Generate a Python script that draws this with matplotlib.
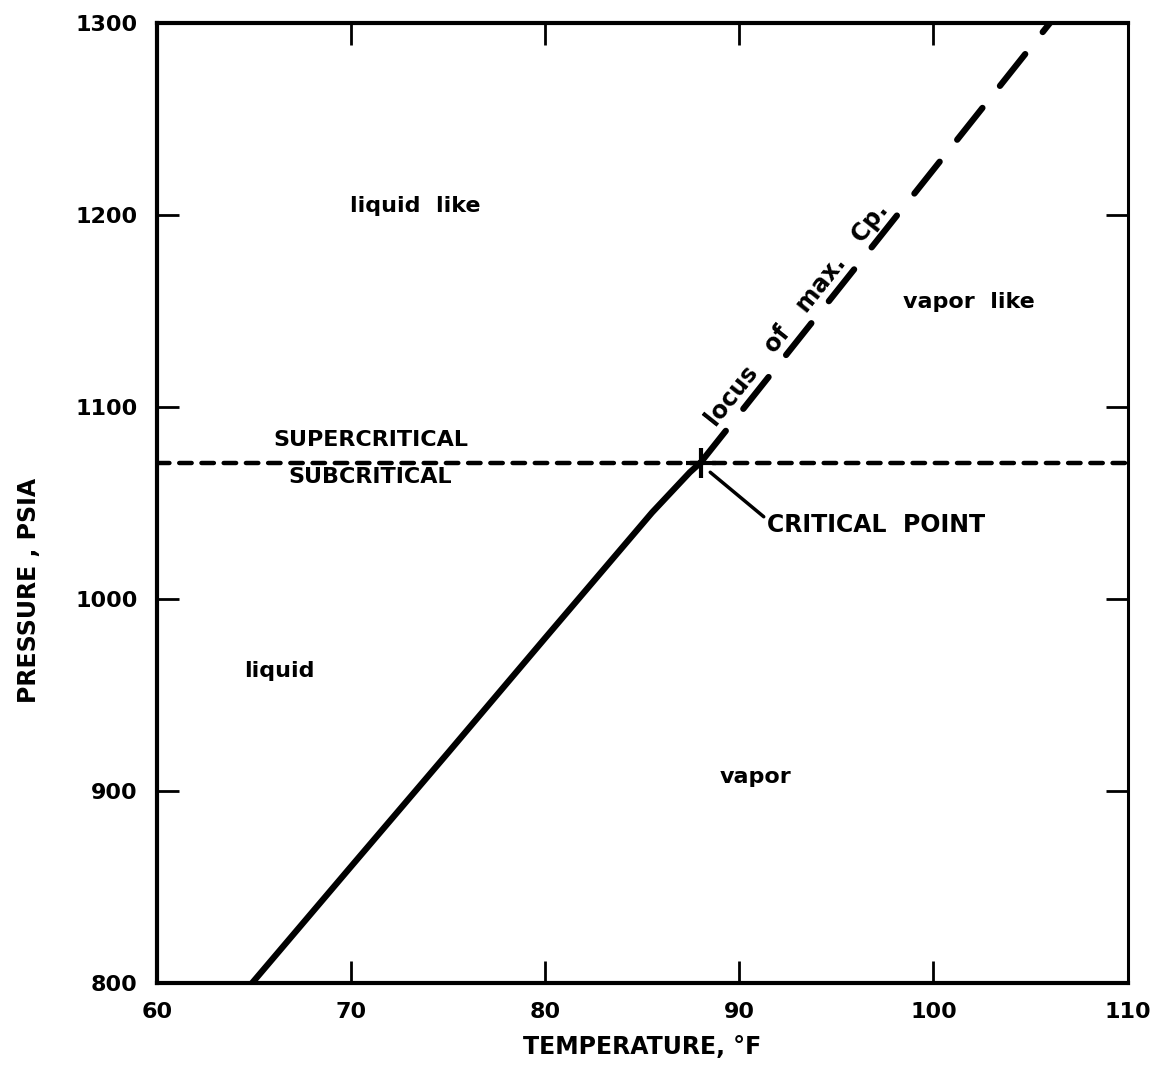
import numpy as np
import matplotlib.pyplot as plt

#--------------------------------
# Data
#--------------------------------
sat_T = [64.9, 70.0, 75.0, 80.0, 85.5, 87.45, 88.0]      # vapor pressure curve, F
sat_P = [800, 860.7, 920, 979.7, 1045, 1066, 1071]       # psia

locus_T = [88.0, 106.0]      # locus of max. Cp
locus_P = [1071, 1300]

crit_T = 88.0
crit_P = 1071

x_ticks = [60, 70, 80, 90, 100, 110]
y_ticks = [800, 900, 1000, 1100, 1200, 1300]

#--------------------------------
# Configurations of the graph
#--------------------------------
plt.rcParams['font.family'] = 'DejaVu Sans'
plt.rcParams['font.weight'] = 'bold'

fig = plt.figure(figsize=(11.52, 10.84), dpi=100)
ax = fig.add_axes([0.1363, 0.0932, 0.8425, 0.8856])

# saturation line
ax.plot(sat_T, sat_P, color='black', lw=4.5, solid_capstyle='round')

# critical pressure line
ax.plot([x_ticks[0], x_ticks[-1]], [crit_P, crit_P], color='black', lw=3.2,
        dashes=(2.8, 2.2), dash_capstyle='round')

# locus of max Cp
ax.plot(locus_T, locus_P, color='black', lw=4.5, dashes=(6.5, 4.5),
        dash_capstyle='round')

# critical point cross
ax.plot([crit_T], [crit_P], marker='+', color='black', markersize=22, mew=3)

# labels inside the plot
txt = dict(color='black', fontsize=16, fontweight='bold', ha='center', va='center')
ax.text(73.3, 1204.5, 'liquid  like', **txt)
ax.text(101.8, 1154.7, 'vapor  like', **txt)
ax.text(71.0, 1082.8, 'SUPERCRITICAL', **txt)
ax.text(71.0, 1063.5, 'SUBCRITICAL', **txt)
ax.text(66.3, 962.5, 'liquid', **txt)
ax.text(90.85, 907.3, 'vapor', **txt)
txt['fontsize'] = 17
ax.text(93.0, 1148.0, 'locus   of   max.   Cp.', rotation=51.5,
        rotation_mode='anchor', **txt)

ax.annotate('CRITICAL  POINT', xy=(88.5, 1066), xytext=(91.4, 1038.5),
            fontsize=17, fontweight='bold', ha='left', va='center',
            arrowprops=dict(arrowstyle='-', lw=2.5, color='black',
                            shrinkA=0, shrinkB=0, relpos=(0, 0.75)))

# axes
ax.set_xlim(x_ticks[0], x_ticks[-1])
ax.set_ylim(y_ticks[0], y_ticks[-1])
ax.set_xticks(x_ticks)
ax.set_yticks(y_ticks)
ax.tick_params(direction='in', length=16, width=2, top=True, right=True,
               labelsize=16, pad=14)
for lab in ax.get_xticklabels() + ax.get_yticklabels():
    lab.set_fontweight('bold')
for edge, spine in ax.spines.items():
    spine.set_linewidth(3)
ax.spines['right'].set_linewidth(2.2)

ax.set_xlabel('TEMPERATURE, \u00b0F', fontsize=17, fontweight='bold')
ax.xaxis.set_label_coords(0.5, -0.054)
ax.set_ylabel('PRESSURE , PSIA', fontsize=17, fontweight='bold')
ax.yaxis.set_label_coords(-0.12, 0.409)

plt.savefig('out.png', dpi=100)
